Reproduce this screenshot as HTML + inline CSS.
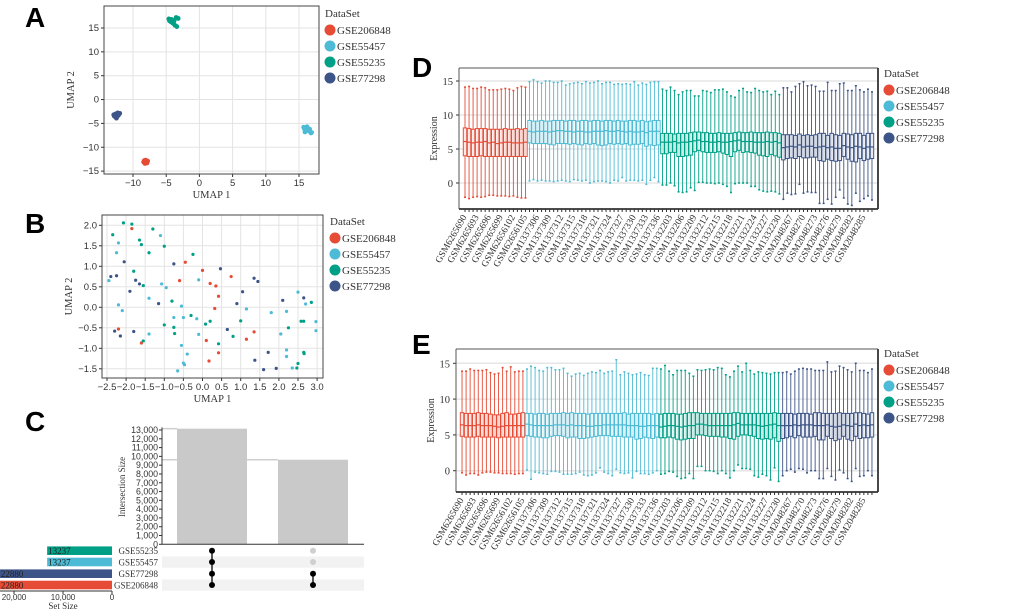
<!DOCTYPE html>
<html><head><meta charset="utf-8"><style>
html,body{margin:0;padding:0;background:#fff}
svg{display:block}
text{font-family:"Liberation Serif",serif;fill:#333}
.sans{font-family:"Liberation Sans",sans-serif}
.lab{font-family:"Liberation Sans",sans-serif;font-weight:bold;font-size:28px;fill:#000}
</style></head><body>
<svg id="fig" width="1020" height="613" viewBox="0 0 1020 613" xmlns="http://www.w3.org/2000/svg">
<text class="lab" x="25" y="27">A</text>
<text class="lab" x="25" y="233">B</text>
<text class="lab" x="25" y="431">C</text>
<text class="lab" x="412" y="77">D</text>
<text class="lab" x="412" y="354">E</text>
<g id="gA"></g>
<g id="gB"></g>
<g id="gC"></g>
<g id="gD"></g>
<g id="gE"></g>
</svg>
<script>
const datasets = ["GSE206848","GSE55457","GSE55235","GSE77298"];
const colors = ["#E64B35","#4DBBD5","#00A087","#3C5488"];
const aRedX=[-8.3,-8.0,-8.4,-7.9,-8.1,-7.8,-8.2];
const aRedY=[-12.8,-13.0,-13.1,-13.3,-12.7,-12.9,-13.4];
const aCyanX=[15.7,16.0,16.3,16.5,16.8,15.9,16.2,16.6,16.9,15.8];
const aCyanY=[-5.8,-6.3,-6.0,-6.6,-7.0,-6.8,-5.7,-6.2,-6.9,-6.1];
const aGreenX=[-4.5,-4.2,-3.9,-3.5,-3.2,-4.0,-3.7,-3.4,-4.3,-3.8,-4.6];
const aGreenY=[16.5,16.8,16.2,17.2,17.0,16.0,15.6,15.3,16.3,16.6,16.9];
const aBlueX=[-12.6,-12.3,-12.8,-12.5,-12.2,-12.9,-12.4,-12.0];
const aBlueY=[-3.0,-2.8,-3.5,-3.9,-3.3,-3.2,-3.6,-2.9];
const bRedX=[-1.85,-0.45,-0.6,0.0,0.75,0.2,0.35,0.42,0.32,-2.2,-1.6,0.1,0.42,0.17,1.15,1.35];
const bRedY=[1.92,1.1,0.65,0.9,0.75,0.58,0.52,0.27,-0.03,-0.53,-0.87,-0.81,-1.11,-1.31,-0.78,-0.6];
const bCyanX=[-2.45,-2.2,-2.25,-1.1,-2.2,-2.1,-1.07,-0.95,-1.4,-1.4,-0.55,-0.75,-0.5,-0.15,-0.1,-0.1,-0.55,-0.4,-0.5,-0.47,-0.65,1.15,1.8,2.05,2.2,2.2,2.2,2.35,2.5,2.7,2.97,2.97];
const bCyanY=[0.65,1.57,1.33,1.75,0.06,-0.08,0.57,0.48,0.22,-0.65,0.03,-0.25,-0.25,-0.28,0.67,-0.66,-0.93,-1.14,-1.36,-1.4,-1.55,-0.04,-0.13,-0.65,-0.1,-1.04,-1.2,-1.48,0.37,0.08,-0.35,-0.57];
const bGreenX=[-2.35,-2.07,-1.85,-1.65,-1.6,-1.3,-1.4,-1.0,-0.25,-1.8,-1.55,-0.8,-0.3,-1.0,-0.75,-0.73,0.08,0.2,0.42,-1.55,0.8,1.0,2.25,2.5,2.47,2.58,2.65,2.65,2.66,2.85];
const bGreenY=[1.77,2.06,2.03,1.64,1.53,1.91,1.33,1.49,1.29,0.88,0.53,0.15,-0.2,-0.43,-0.49,-0.64,-0.41,-0.34,-0.89,-0.82,-0.71,-0.33,-0.5,-1.37,-1.48,-0.34,-0.34,-1.1,-1.13,0.12];
const bBlueX=[-2.4,-2.25,-2.05,-1.75,-1.65,-1.9,-1.15,-0.75,0.47,1.35,1.45,1.05,0.9,0.65,-2.3,-2.15,-1.8,1.37,1.6,1.72,1.93,2.1,2.65];
const bBlueY=[0.75,0.77,1.11,0.66,0.57,0.39,0.09,1.06,0.94,0.71,0.63,0.38,0.09,-0.54,-0.58,-0.7,-0.59,-1.29,-1.52,-1.1,-1.49,0.17,0.23];
const intersectSizes=[13150,9620];
const intersectMembers=[[1,1,1,1],[0,0,1,1]];
const setNames=["GSE55235","GSE55457","GSE77298","GSE206848"];
const setSizes=[13237,13237,22880,22880];
const setColors=["#00A087","#4DBBD5","#3C5488","#E64B35"];
const cTicks=[0,1000,2000,3000,4000,5000,6000,7000,8000,9000,10000,11000,12000,13000];
const groupCounts=[16,33,30,23];
const groupPrefix=["GSM62656","GSM13373","GSM13322","GSM20482"];
const groupStart=[90,4,1,65];
const boxTicks=[0,5,10,15];
const dMed=[6.1,6.0,5.9,6.0,6.0,6.1,5.9,6.0,5.8,5.9,6.0,6.0,5.9,5.9,5.9,6.0,
7.6,7.5,7.6,7.6,7.6,7.5,7.6,7.7,7.7,7.6,7.6,7.5,7.6,7.6,7.5,7.5,7.6,7.6,7.6,7.7,7.6,7.6,7.7,7.6,7.5,7.6,7.5,7.5,7.6,7.4,7.6,7.6,7.6,
6.0,6.0,6.0,6.1,5.9,6.0,6.0,6.1,6.2,6.3,6.1,6.1,6.0,6.0,6.1,6.0,6.0,6.1,6.2,6.3,6.1,6.1,6.1,6.0,6.0,6.0,6.1,6.0,6.1,5.9,
5.2,5.3,5.4,5.3,5.6,5.3,5.4,5.4,5.2,5.3,5.4,5.2,5.3,5.1,5.1,5.5,5.3,5.2,5.4,5.3,5.1,5.3,5.3];
const dQ1=[4.0,3.9,3.9,3.9,4.0,3.9,3.9,3.9,3.9,3.9,3.9,3.9,3.9,3.9,3.9,3.9,
5.9,5.8,5.8,5.8,5.8,5.7,5.6,5.8,5.8,5.8,5.7,5.8,5.7,5.6,5.8,5.7,5.8,5.6,5.5,5.6,5.8,5.7,5.8,5.7,5.8,5.6,5.7,5.7,5.8,5.4,5.6,5.5,5.6,
4.3,4.3,4.5,4.5,3.9,3.9,4.0,4.1,4.6,4.8,4.6,4.5,4.5,4.5,4.6,4.4,4.2,3.9,4.6,4.8,4.5,4.6,4.5,4.4,4.1,4.0,3.9,4.2,4.0,3.8,
3.4,3.6,3.7,3.6,3.9,3.7,3.7,3.8,3.8,3.3,3.2,3.5,3.3,3.2,3.3,3.9,3.5,3.2,3.1,3.6,3.3,3.5,3.6];
const dQ3=[8.1,8.0,7.9,8.0,8.0,8.0,7.9,7.9,7.9,7.9,8.0,7.9,7.9,8.0,7.9,8.0,
9.2,9.1,9.1,9.2,9.1,9.1,9.2,9.2,9.2,9.1,9.2,9.2,9.1,9.2,9.2,9.1,9.2,9.2,9.1,9.2,9.2,9.1,9.2,9.1,9.1,9.2,9.2,9.1,9.2,9.0,9.1,9.2,9.2,
7.3,7.3,7.3,7.2,7.3,7.3,7.3,7.4,7.5,7.5,7.4,7.4,7.3,7.3,7.4,7.3,7.3,7.3,7.4,7.5,7.4,7.4,7.5,7.4,7.4,7.4,7.5,7.4,7.4,7.3,
7.1,7.1,7.1,7.0,7.2,7.0,7.1,7.0,7.1,7.3,7.3,7.0,7.3,7.1,7.0,7.3,7.2,7.1,7.3,7.3,7.0,7.3,7.3];
const dLo=[-2.1,-2.3,-2.1,-2.0,-2.1,-2.0,-1.8,-1.8,-1.9,-1.9,-1.9,-2.0,-1.9,-2.1,-2.2,-2.2,
0.3,0.5,0.3,0.4,0.3,0.3,0.2,0.3,0.4,0.3,0.2,0.5,0.4,0.3,0.4,0.0,0.2,0.3,0.3,0.2,0.0,0.4,0.3,0.8,0.3,0.4,0.4,0.3,0.4,-0.2,0.4,0.8,0.2,
-0.3,-0.3,0.0,-0.4,-1.3,-1.4,-1.3,-0.7,-1.1,0.1,0.1,0.0,0.0,-0.1,0.0,-0.2,-0.5,-1.4,-0.1,0.0,0.0,0.0,-0.5,-0.5,-1.0,-1.2,-1.3,-1.2,-1.3,-1.6,
-2.4,-1.5,-1.7,-1.6,-0.2,-1.5,-1.3,-1.4,-1.4,-3.0,-3.0,-2.4,-3.1,-2.1,-1.0,-2.2,-3.1,-3.3,-1.5,-2.7,-2.3,-1.9,-2.5];
const dHi=[14.1,14.2,13.9,13.9,14.1,14.0,13.7,13.7,13.7,13.8,13.9,13.8,13.6,14.0,14.2,14.1,
14.9,15.2,14.9,14.7,15.0,15.0,14.8,14.8,15.0,14.4,14.6,14.7,14.8,14.6,14.9,14.7,14.8,15.0,14.6,14.8,14.8,14.5,14.6,14.5,14.6,14.5,14.9,14.4,14.7,14.5,14.8,14.9,14.9,
13.8,13.6,14.1,13.6,13.0,13.4,13.6,13.6,12.8,12.8,13.6,13.5,13.3,13.7,13.7,13.8,13.4,12.8,12.6,13.6,13.9,13.4,13.3,13.9,13.6,13.4,13.5,13.0,13.5,13.0,
14.0,14.0,13.4,14.2,14.6,14.9,14.3,14.4,14.2,13.5,13.5,14.8,13.6,13.6,14.6,14.7,13.6,13.6,14.3,13.7,13.4,13.8,13.4];
const eMed=[6.4,6.3,6.3,6.3,6.4,6.3,6.3,6.3,6.2,6.1,6.2,6.3,6.3,6.3,6.3,6.3,
6.5,6.4,6.3,6.3,6.3,6.3,6.3,6.4,6.4,6.4,6.3,6.4,6.3,6.3,6.3,6.2,6.2,6.3,6.3,6.4,6.4,6.4,6.4,6.4,6.4,6.3,6.3,6.3,6.2,6.2,6.3,6.3,6.3,
6.1,6.2,6.3,6.3,6.2,6.1,6.2,6.3,6.3,6.5,6.5,6.4,6.3,6.3,6.3,6.3,6.3,6.3,6.4,6.6,6.4,6.4,6.4,6.4,6.3,6.2,6.3,6.4,6.5,6.3,
6.3,6.3,6.3,6.4,6.3,6.4,6.4,6.4,6.3,6.3,6.3,6.4,6.2,6.1,6.2,6.4,6.3,6.2,6.5,6.3,6.4,6.3,6.4];
const eQ1=[4.8,4.7,4.7,4.7,4.8,4.7,4.7,4.7,4.7,4.6,4.7,4.7,4.7,4.7,4.7,4.7,
4.9,4.8,4.7,4.7,4.6,4.6,4.8,4.9,4.9,4.8,4.6,4.7,4.7,4.5,4.5,4.6,4.7,4.8,4.9,4.9,4.9,4.8,4.8,4.8,4.7,4.7,4.7,4.4,4.5,4.7,4.6,4.5,4.7,
4.6,4.6,4.7,4.6,4.4,4.3,4.4,4.5,4.5,5.0,5.0,4.9,4.8,4.8,4.8,4.7,4.7,4.5,4.4,4.8,5.0,5.0,4.9,4.8,4.5,4.4,4.5,4.4,4.6,4.1,
4.5,4.6,4.8,4.6,4.9,4.7,4.7,4.7,4.8,4.3,4.3,4.8,4.5,4.2,4.4,4.8,4.4,4.2,4.8,4.5,4.6,4.6,4.7];
const eQ3=[8.1,8.0,8.0,8.0,8.1,8.0,8.0,7.9,7.8,7.8,8.0,8.1,7.9,7.9,8.0,8.1,
8.0,8.0,7.9,8.0,8.0,7.9,8.0,8.0,8.0,8.1,8.0,8.1,8.0,8.0,8.0,7.9,8.0,8.0,8.0,8.0,8.0,8.0,8.0,8.0,8.1,7.9,8.0,8.0,8.0,8.0,8.0,7.9,8.0,
7.9,8.0,8.0,8.0,7.9,7.9,8.0,8.1,8.1,8.1,8.0,8.0,8.0,8.0,8.0,8.0,8.0,8.0,8.1,8.1,8.0,8.0,8.0,8.0,8.0,8.0,8.0,8.0,8.1,8.0,
8.0,8.0,8.0,7.9,8.0,8.0,8.0,7.9,8.1,8.1,8.0,8.0,8.0,8.0,8.1,8.0,8.0,8.0,8.1,8.1,8.0,7.9,8.1];
const eLo=[-0.3,-0.6,-0.4,-0.4,-0.6,-0.3,-0.2,-0.2,-0.3,-0.3,-0.4,-0.4,-0.4,-0.5,-0.4,-0.4,
0.1,-1.2,-0.2,-0.3,-0.4,-0.5,-0.1,-0.1,-0.2,-0.5,-0.5,-0.5,-0.4,-0.2,-0.6,-0.7,-0.6,-0.3,0.4,-0.2,-0.4,-0.7,0.2,-0.3,-0.4,-0.3,-1.0,-0.1,-0.4,-0.4,-0.5,-0.3,0.0,
-0.5,-0.4,-0.1,-0.2,-0.8,-1.1,-1.0,-0.4,-1.1,0.6,0.6,0.0,0.0,-0.1,-0.4,0.0,-0.4,-1.0,0.0,0.8,0.3,0.3,0.2,-0.7,-0.9,-0.5,-0.7,-1.3,0.4,-1.5,
-0.7,0.0,0.2,-0.2,0.3,0.2,-0.3,0.0,0.0,-1.1,-1.1,0.3,-0.8,-1.3,0.1,-0.3,-1.1,-1.5,0.3,-0.8,-0.7,0.0,-0.7];
const eHi=[13.9,13.9,14.2,14.0,14.0,14.0,14.1,13.7,13.5,13.6,14.4,13.9,14.5,13.8,13.9,13.9,
14.2,14.6,14.4,14.0,13.9,14.4,14.4,14.1,14.1,14.3,13.6,13.2,13.5,13.6,13.3,13.6,13.8,13.7,14.0,13.6,13.8,13.9,15.5,13.4,13.8,13.6,13.4,13.5,13.7,13.4,13.3,14.3,14.3,
14.2,14.7,13.9,13.4,14.0,14.0,14.0,13.6,13.2,14.1,14.0,14.1,14.2,14.1,14.4,14.3,13.4,13.1,13.9,14.6,13.8,15.0,14.0,13.5,13.8,13.7,13.6,13.5,13.7,13.7,
13.7,13.8,13.5,13.9,14.2,14.3,14.2,14.2,14.0,14.0,14.0,15.2,13.8,13.9,14.6,14.4,14.1,13.8,15.0,14.0,14.0,13.7,14.2];
</script>
<script>
const NS="http://www.w3.org/2000/svg";
function mk(parent,tag,attrs,txt){const e=document.createElementNS(NS,tag);for(const k in attrs)e.setAttribute(k,attrs[k]);if(txt!==undefined)e.textContent=txt;parent.appendChild(e);return e;}

function legend(g,x,y,gap){
  const t=mk(g,"text",{x:x,y:y,"font-size":"11"},"DataSet");
  
  
  datasets.forEach((d,i)=>{
    const yy=y+13+i*gap;
    const c=mk(g,"circle",{cx:x+5,cy:yy,r:5.5,fill:colors[i]});
    
    
    const tt=mk(g,"text",{x:x+12,y:yy+4,"font-size":"11"},d);
    
    
  });
}

function scatter(g,cfg,xs,ys,r,xt,yt,xfmt,yfmt){
  const sx=v=>cfg.x0+(v-cfg.xa)*cfg.kx, sy=v=>cfg.y0-(v-cfg.ya)*cfg.ky;
  const bg=mk(g,"rect",{x:cfg.L,y:cfg.T,width:cfg.R-cfg.L,height:cfg.B-cfg.T,fill:"#fff",stroke:"#444","stroke-width":1});
  
  
  xt.forEach(v=>{
    const l=mk(g,"line",{x1:sx(v),x2:sx(v),y1:cfg.T,y2:cfg.B,stroke:"#e3e3e3"});
    
    
    mk(g,"line",{x1:sx(v),x2:sx(v),y1:cfg.B,y2:cfg.B+3,stroke:"#333"});
    const t=mk(g,"text",{x:sx(v),y:cfg.B+12,"font-size":"9.5","text-anchor":"middle",class:"sans"},xfmt(v));
    
    
  });
  yt.forEach(v=>{
    const l=mk(g,"line",{x1:cfg.L,x2:cfg.R,y1:sy(v),y2:sy(v),stroke:"#e3e3e3"});
    
    
    mk(g,"line",{x1:cfg.L-3,x2:cfg.L,y1:sy(v),y2:sy(v),stroke:"#333"});
    const t=mk(g,"text",{x:cfg.L-5,y:sy(v)+3,"font-size":"9.5","text-anchor":"end",class:"sans"},yfmt(v));
    
    
  });
  mk(g,"rect",{x:cfg.L,y:cfg.T,width:cfg.R-cfg.L,height:cfg.B-cfg.T,fill:"none",stroke:"#444","stroke-width":1});
  xs.forEach((arr,gi)=>{
    arr.forEach((v,i)=>{
      const c=mk(g,"circle",{cx:sx(v),cy:sy(ys[gi][i]),r:r,fill:colors[gi]});
      
      
    });
  });
  const xl=mk(g,"text",{x:(cfg.L+cfg.R)/2,y:cfg.B+24,"font-size":"10.5","text-anchor":"middle"},"UMAP 1");
  
  
  const yx=cfg.L-30, yy=(cfg.T+cfg.B)/2;
  const yl=mk(g,"text",{x:yx,y:yy,"font-size":"10.5","text-anchor":"middle",transform:`rotate(-90 ${yx} ${yy})`},"UMAP 2");
  
  
}

scatter(document.getElementById("gA"),
 {L:104,R:319,T:6,B:174,x0:133,xa:-10,kx:6.64,y0:28,ya:15,ky:4.77},
 [aRedX,aCyanX,aGreenX,aBlueX],[aRedY,aCyanY,aGreenY,aBlueY],2.4,
 [-10,-5,0,5,10,15],[-15,-10,-5,0,5,10,15],v=>v<0?"\u2212"+(-v):""+v,v=>v<0?"\u2212"+(-v):""+v);
legend(document.getElementById("gA"),325,17,16);
scatter(document.getElementById("gB"),
 {L:102,R:323,T:215,B:378,x0:107,xa:-2.5,kx:38.2,y0:225.3,ya:2.0,ky:41},
 [bRedX,bCyanX,bGreenX,bBlueX],[bRedY,bCyanY,bGreenY,bBlueY],1.6,
 [-2.5,-2.0,-1.5,-1.0,-0.5,0,0.5,1.0,1.5,2.0,2.5,3.0],[-1.5,-1.0,-0.5,0,0.5,1.0,1.5,2.0],
 v=>(v<0?"\u2212":"")+Math.abs(v).toFixed(1),v=>(v<0?"\u2212":"")+Math.abs(v).toFixed(1));
legend(document.getElementById("gB"),330,225,16);

(function(){
  const g=document.getElementById("gC");
  const axX=162, y0=544.3, ky=114.3/13000, right=364;
  const sy=v=>y0-v*ky;
  const colX=[212,313], bw=70;
  const rowY=[550.7,562,573.7,585];
  rowY.forEach((y,i)=>{ if(i%2===1){ const r=mk(g,"rect",{x:axX,y:y-5.6,width:right-axX,height:11.3,fill:"#f2f2f2"});
     }});
  intersectSizes.forEach((v,i)=>{
    const l=mk(g,"line",{x1:axX,x2:colX[i]-bw/2,y1:sy(v),y2:sy(v),stroke:"#cfcfcf","stroke-width":1.5});
     
  });
  intersectSizes.forEach((v,i)=>{
    const r=mk(g,"rect",{x:colX[i]-bw/2,y:sy(v),width:bw,height:y0-sy(v),fill:"#c9c9c9"});
     
  });
  mk(g,"line",{x1:axX,x2:axX,y1:sy(13300),y2:y0,stroke:"#333"});
  mk(g,"line",{x1:axX,x2:right,y1:y0,y2:y0,stroke:"#333"});
  cTicks.forEach(v=>{
    mk(g,"line",{x1:axX-3,x2:axX,y1:sy(v),y2:sy(v),stroke:"#333"});
    const t=mk(g,"text",{x:axX-4,y:sy(v)+3,"font-size":"8.8","text-anchor":"end",class:"sans"},v.toLocaleString("en-US"));
     
  });
  const ix=125, iy=487;
  const yl=mk(g,"text",{x:ix,y:iy,"font-size":"9","text-anchor":"middle",transform:`rotate(-90 ${ix} ${iy})`},"Intersection Size");
   
  intersectMembers.forEach((m,ci)=>{
    const on=rowY.filter((y,ri)=>m[ri]);
    if(on.length>1){ mk(g,"line",{x1:colX[ci],x2:colX[ci],y1:Math.min(...on),y2:Math.max(...on),stroke:"#000","stroke-width":1.3}); }
    m.forEach((v,ri)=>{
      const c=mk(g,"circle",{cx:colX[ci],cy:rowY[ri],r:3,fill:v?"#000":"#cfcfcf"});
       
    });
  });
  const sx0=112, kx=49/10000;
  setSizes.forEach((v,i)=>{
    const w=v*kx;
    const r=mk(g,"rect",{x:sx0-w,y:rowY[i]-4.3,width:w,height:8.6,fill:setColors[i]});
     
    const t=mk(g,"text",{x:sx0-w+1,y:rowY[i]+3.5,"font-size":"9"},""+v);
    t.style.fill="#222";
     
    const n=mk(g,"text",{x:158,y:rowY[i]+3.5,"font-size":"9","text-anchor":"end"},setNames[i]);
     
  });
  mk(g,"line",{x1:sx0-24000*kx,x2:sx0,y1:591,y2:591,stroke:"#333"});
  [20000,10000,0].forEach(v=>{
    mk(g,"line",{x1:sx0-v*kx,x2:sx0-v*kx,y1:591,y2:594,stroke:"#333"});
    const t=mk(g,"text",{x:sx0-v*kx,y:600,"font-size":"8","text-anchor":"middle",class:"sans"},v.toLocaleString("en-US"));
     
  });
  const st=mk(g,"text",{x:63,y:609,"font-size":"9","text-anchor":"middle"},"Set Size");
   
})();

function boxplot(g,cfg,med,q1,q3,lo,hi){
  const n=med.length;
  const step=(cfg.R-cfg.L-8)/n;
  const sx=i=>cfg.L+4+(i+0.5)*step;
  const sy=v=>cfg.y0-v*cfg.ky;
  const bg=mk(g,"rect",{x:cfg.L,y:cfg.T,width:cfg.R-cfg.L,height:cfg.B-cfg.T,fill:"#fff"});
   
  boxTicks.forEach(v=>{
    const l=mk(g,"line",{x1:cfg.L,x2:cfg.R,y1:sy(v),y2:sy(v),stroke:"#e6e6e6","stroke-width":1.5});
     
    mk(g,"line",{x1:cfg.L-3,x2:cfg.L,y1:sy(v),y2:sy(v),stroke:"#333"});
    const t=mk(g,"text",{x:cfg.L-6,y:sy(v)+4,"font-size":"10.5","text-anchor":"end"},""+v);
     
  });
  const grp=[]; groupCounts.forEach((c,k)=>{for(let j=0;j<c;j++)grp.push([k,j]);});
  for(let i=0;i<n;i++){
    const [k,j]=grp[i]; const col=colors[k]; const x=sx(i); const bw=step*0.85;
    mk(g,"line",{x1:x,x2:x,y1:sy(hi[i]),y2:sy(lo[i]),stroke:col,"stroke-width":0.9});
    mk(g,"line",{x1:x-1,x2:x+1,y1:sy(hi[i]),y2:sy(hi[i]),stroke:col,"stroke-width":1.5});
    mk(g,"line",{x1:x-1,x2:x+1,y1:sy(lo[i]),y2:sy(lo[i]),stroke:col,"stroke-width":1.5});
    const b=mk(g,"rect",{x:x-bw/2,y:sy(q3[i]),width:bw,height:sy(q1[i])-sy(q3[i]),fill:"#fff","fill-opacity":0.75,stroke:col,"stroke-width":1});
    
    
    mk(g,"line",{x1:x-bw/2,x2:x+bw/2,y1:sy(med[i]),y2:sy(med[i]),stroke:col,"stroke-width":1.2});
    mk(g,"line",{x1:x,x2:x,y1:cfg.B,y2:cfg.B+3,stroke:"#333"});
    if(i%3===0){
      const lbl=groupPrefix[k]+String(groupStart[k]+j).padStart(2,"0");
      const ty=cfg.B+8;
      const t=mk(g,"text",{x:x+2,y:ty,"font-size":"9.5","text-anchor":"end",transform:`rotate(-60 ${x+2} ${ty})`},lbl);
       
    }
  }
  mk(g,"line",{x1:cfg.L,x2:cfg.R,y1:cfg.T,y2:cfg.T,stroke:"#555","stroke-width":1});
  mk(g,"line",{x1:cfg.R,x2:cfg.R,y1:cfg.T,y2:cfg.B,stroke:"#333","stroke-width":1.8});
  mk(g,"line",{x1:cfg.L,x2:cfg.L,y1:cfg.T,y2:cfg.B,stroke:"#555","stroke-width":1});
  mk(g,"line",{x1:cfg.L,x2:cfg.R,y1:cfg.B,y2:cfg.B,stroke:"#333","stroke-width":1.8});
  const yx=cfg.L-22, yy=(cfg.T+cfg.B)/2;
  const yl=mk(g,"text",{x:yx,y:yy,"font-size":"10","text-anchor":"middle",transform:`rotate(-90 ${yx} ${yy})`},"Expression");
   
}
boxplot(document.getElementById("gD"),{L:459,R:878,T:68,B:209,y0:183,ky:6.8},dMed,dQ1,dQ3,dLo,dHi);
legend(document.getElementById("gD"),884,77,16);
boxplot(document.getElementById("gE"),{L:456,R:878,T:349,B:492,y0:470.7,ky:7.16},eMed,eQ1,eQ3,eLo,eHi);
legend(document.getElementById("gE"),884,357,16);
</script>
</body></html>
